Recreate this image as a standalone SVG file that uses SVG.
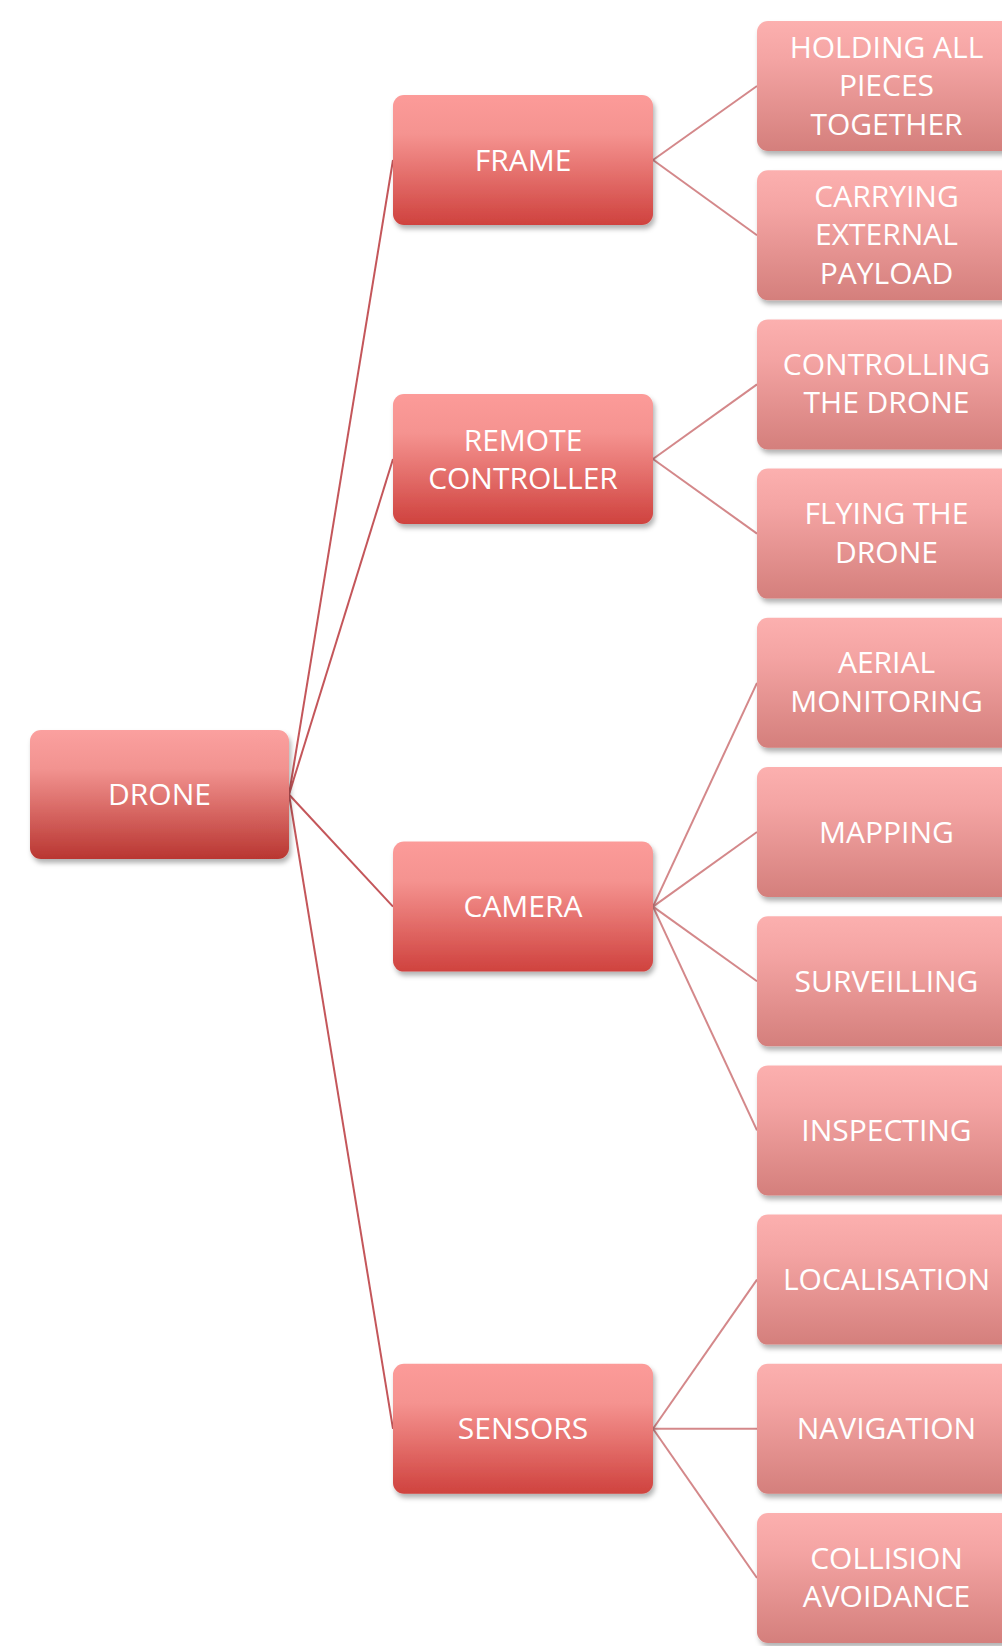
<svg xmlns="http://www.w3.org/2000/svg" width="1002" height="1646" viewBox="0 0 1002 1646">
<defs>
<linearGradient id="gRoot" x1="0" y1="0" x2="0" y2="1">
<stop offset="0" stop-color="#fba09f"/><stop offset="0.3" stop-color="#f29390"/><stop offset="1" stop-color="#b93631"/>
</linearGradient>
<linearGradient id="gMid" x1="0" y1="0" x2="0" y2="1">
<stop offset="0" stop-color="#fc9b99"/><stop offset="0.3" stop-color="#f59390"/><stop offset="1" stop-color="#cf423e"/>
</linearGradient>
<linearGradient id="gLeaf" x1="0" y1="0" x2="0" y2="1">
<stop offset="0" stop-color="#fcb0af"/><stop offset="0.3" stop-color="#f4a4a3"/><stop offset="1" stop-color="#d47f7c"/>
</linearGradient>
<filter id="sh" x="-10%" y="-10%" width="125%" height="135%">
<feDropShadow dx="2" dy="4" stdDeviation="2.5" flood-color="#000" flood-opacity="0.3"/>
</filter>
</defs>
<style>
.root{fill:url(#gRoot);filter:url(#sh)}
.mid{fill:url(#gMid);filter:url(#sh)}
.leaf{fill:url(#gLeaf);filter:url(#sh)}
text{font-family:"Open Sans","Liberation Sans",sans-serif;font-size:30px;fill:#ffffff;text-anchor:middle}
.c1{stroke:#c4565a;stroke-width:2;fill:none}
.c2{stroke:#d4888a;stroke-width:2;fill:none}
</style>
<rect width="1002" height="1646" fill="#ffffff"/>
<g id="connectors">
<line class="c1" x1="289" y1="794.5" x2="393" y2="160"/>
<line class="c1" x1="289" y1="794.5" x2="393" y2="459"/>
<line class="c1" x1="289" y1="794.5" x2="393" y2="906.6"/>
<line class="c1" x1="289" y1="794.5" x2="393" y2="1428.8"/>
<line class="c2" x1="653" y1="160" x2="757" y2="86"/>
<line class="c2" x1="653" y1="160" x2="757" y2="235.2"/>
<line class="c2" x1="653" y1="459" x2="757" y2="384.4"/>
<line class="c2" x1="653" y1="459" x2="757" y2="533.6"/>
<line class="c2" x1="653" y1="906.6" x2="757" y2="682.8"/>
<line class="c2" x1="653" y1="906.6" x2="757" y2="832"/>
<line class="c2" x1="653" y1="906.6" x2="757" y2="981.2"/>
<line class="c2" x1="653" y1="906.6" x2="757" y2="1130.4"/>
<line class="c2" x1="653" y1="1428.8" x2="757" y2="1279.6"/>
<line class="c2" x1="653" y1="1428.8" x2="757" y2="1428.8"/>
<line class="c2" x1="653" y1="1428.8" x2="757" y2="1578"/>
</g>
<g id="drone"><rect class="root" x="30" y="730" width="259" height="129" rx="11"/><text x="159.5" y="805">DRONE</text></g>
<g id="frame"><rect class="mid" x="393" y="95" width="260" height="130" rx="11"/><text x="523" y="170.5">FRAME</text></g>
<g id="remote"><rect class="mid" x="393" y="394" width="260" height="130" rx="11"/><text x="523" y="450.5">REMOTE</text><text x="523" y="488.5">CONTROLLER</text></g>
<g id="camera"><rect class="mid" x="393" y="841.6" width="260" height="130" rx="11"/><text x="523" y="917">CAMERA</text></g>
<g id="sensors"><rect class="mid" x="393" y="1363.8" width="260" height="130" rx="11"/><text x="523" y="1439.3">SENSORS</text></g>
<g id="leaf-holding"><rect class="leaf" x="757" y="21" width="259" height="130" rx="11"/><text x="886.5" y="57.5">HOLDING ALL</text><text x="886.5" y="96">PIECES</text><text x="886.5" y="134.5">TOGETHER</text></g>
<g id="leaf-carrying"><rect class="leaf" x="757" y="170.2" width="259" height="130" rx="11"/><text x="886.5" y="206.7">CARRYING</text><text x="886.5" y="245.2">EXTERNAL</text><text x="886.5" y="283.7">PAYLOAD</text></g>
<g id="leaf-controlling"><rect class="leaf" x="757" y="319.4" width="259" height="130" rx="11"/><text x="886.5" y="374.9">CONTROLLING</text><text x="886.5" y="413.4">THE DRONE</text></g>
<g id="leaf-flying"><rect class="leaf" x="757" y="468.6" width="259" height="130" rx="11"/><text x="886.5" y="524.1">FLYING THE</text><text x="886.5" y="562.6">DRONE</text></g>
<g id="leaf-aerial"><rect class="leaf" x="757" y="617.8" width="259" height="130" rx="11"/><text x="886.5" y="673.3">AERIAL</text><text x="886.5" y="711.8">MONITORING</text></g>
<g id="leaf-mapping"><rect class="leaf" x="757" y="767" width="259" height="130" rx="11"/><text x="886.5" y="842.5">MAPPING</text></g>
<g id="leaf-surveilling"><rect class="leaf" x="757" y="916.2" width="259" height="130" rx="11"/><text x="886.5" y="991.7">SURVEILLING</text></g>
<g id="leaf-inspecting"><rect class="leaf" x="757" y="1065.4" width="259" height="130" rx="11"/><text x="886.5" y="1140.9">INSPECTING</text></g>
<g id="leaf-localisation"><rect class="leaf" x="757" y="1214.6" width="259" height="130" rx="11"/><text x="886.5" y="1290.1">LOCALISATION</text></g>
<g id="leaf-navigation"><rect class="leaf" x="757" y="1363.8" width="259" height="130" rx="11"/><text x="886.5" y="1439.3">NAVIGATION</text></g>
<g id="leaf-collision"><rect class="leaf" x="757" y="1513" width="259" height="130" rx="11"/><text x="886.5" y="1568.5">COLLISION</text><text x="886.5" y="1607">AVOIDANCE</text></g>
</svg>
